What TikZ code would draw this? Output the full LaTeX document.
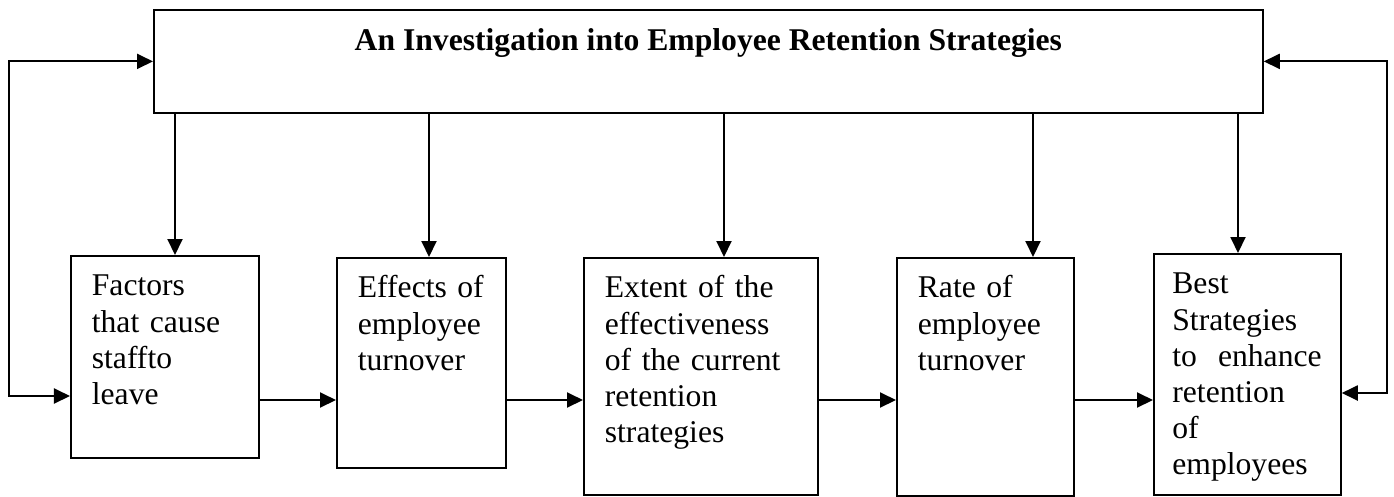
\documentclass[tikz,border=0pt]{standalone}
\usepackage{fontspec}
\setmainfont{Liberation Serif}
\usetikzlibrary{calc,
	positioning,
	arrows.meta}
\hyphenpenalty=10000
\exhyphenpenalty=10000
\tikzstyle{hd}=[draw, line width=1pt, inner sep=0, minimum width=22.18cm,
		text height=0.82cm, text depth=1.24cm,
		font=\fontsize{18pt}{20.6pt}\selectfont\bfseries]
\tikzstyle{st}=[draw, line width=1pt, anchor=north west, align=left,
		inner xsep=0.42cm, inner ysep=0, text height=0.8cm,
		font=\fontsize{18pt}{20.6pt}\selectfont]
\tikzstyle{ar}=[line width=1.1pt, -{Triangle[length=0.32cm, width=0.3cm]}]
\tikzstyle{fb}=[line width=1.1pt,
		{Triangle[length=0.32cm, width=0.3cm]}-{Triangle[length=0.32cm, width=0.3cm]}]

\begin{document}
\begin{tikzpicture}
	\useasboundingbox (0,0) rectangle (27.88,-9.92);
	% main topic
	\node[hd, anchor=north west] (top) at (3.06,-0.18) {An Investigation into Employee Retention Strategies};
	% objectives
	\node[st, text width=2.92cm, text depth=3.24cm] (f1) at (1.40,-5.10) {Factors\\that cause\\staffto\\leave};
	\node[st, text width=2.54cm, text depth=3.40cm] (f2) at (6.72,-5.14) {Effects of\\employee\\turnover};
	\node[st, text width=3.84cm, text depth=3.94cm] (f3) at (11.66,-5.14) {Extent of the\\effectiveness\\of the current\\retention\\strategies};
	\node[st, text width=2.70cm, text depth=3.96cm] (f4) at (17.92,-5.14) {Rate of\\employee\\turnover};
	\node[st, inner xsep=0.37cm, text width=3.00cm, text depth=4.02cm] (f5) at (23.06,-5.06) {Best\\Strategies\\to~~enhance\\retention\\of\\employees};

	\foreach \n/\dx in {f1/2.10, f2/1.86, f3/2.82, f4/2.74, f5/1.70}
		\draw[ar] ($(top.south -| \n.north west)+(\dx,0)$) -- ($(\n.north west)+(\dx,0)$);

	\coordinate (row) at (0,-8.0);
	\foreach \a/\b in {f1/f2, f2/f3, f3/f4, f4/f5}
		\draw[ar] (\a.east |- row) -- (\b.west |- row);

	% feedback
	\coordinate (lft) at (0.18,-7.92);
	\coordinate (rgt) at (27.74,-7.86);
	\draw[fb] (top.west) -| (lft) -- (f1.west |- lft);
	\draw[fb] (top.east) -| (rgt) -- (f5.east |- rgt);
\end{tikzpicture}
\end{document}
